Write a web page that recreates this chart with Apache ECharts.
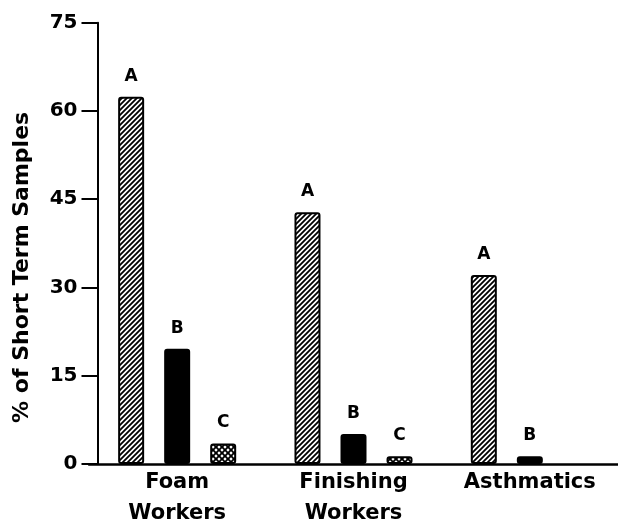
<!DOCTYPE html>
<html>
<head>
<meta charset="utf-8">
<script src="https://cdn.jsdelivr.net/npm/echarts@6/dist/echarts.min.js"></script>
<style>
html,body{margin:0;padding:0;background:#fff;}
#chart{width:618px;height:529px;}
</style>
</head>
<body>
<div id="chart"></div>
<script>
const categories = ['Foam\nWorkers', 'Finishing\nWorkers', 'Asthmatics'];
const seriesNames = ['A', 'B', 'C'];
const valuesA = [62.4, 42.8, 32.1];
const valuesB = [19.6, 5.1, 1.3];
const valuesC = [3.5, 1.3, null];
const yTicks = [0, 15, 30, 45, 60, 75];
const yAxisTitle = '% of Short Term Samples';

function hatchPattern() {
  const s = 5;
  const c = document.createElement('canvas');
  c.width = s; c.height = s;
  const g = c.getContext('2d');
  g.fillStyle = '#fff';
  g.fillRect(0, 0, s, s);
  g.strokeStyle = '#000';
  g.lineWidth = 1.8;
  g.beginPath();
  g.moveTo(-1, s + 1); g.lineTo(s + 1, -1);
  g.moveTo(-1, 1); g.lineTo(1, -1);
  g.moveTo(s - 1, s + 1); g.lineTo(s + 1, s - 1);
  g.stroke();
  return c;
}
function crossPattern() {
  const s = 6;
  const c = document.createElement('canvas');
  c.width = s; c.height = s;
  const g = c.getContext('2d');
  g.fillStyle = '#000';
  g.fillRect(0, 0, s, s);
  g.fillStyle = '#fff';
  const r = 1.7;
  const pts = [[3, 3], [0, 0], [s, 0], [0, s], [s, s]];
  pts.forEach(([x, y]) => {
    g.beginPath();
    g.moveTo(x, y - r); g.lineTo(x + r, y); g.lineTo(x, y + r); g.lineTo(x - r, y);
    g.closePath();
    g.fill();
  });
  return c;
}

const fills = [
  { image: hatchPattern(), repeat: 'repeat' },
  '#000',
  { image: crossPattern(), repeat: 'repeat' }
];
const allValues = [valuesA, valuesB, valuesC];

const chart = echarts.init(document.getElementById('chart'), null, { renderer: 'canvas' });
const font = 'DejaVu Sans';

chart.setOption({
  animation: false,
  backgroundColor: '#fff',
  grid: { left: 89, right: -12.5, top: 22.7, bottom: 62, containLabel: false },
  xAxis: {
    type: 'category',
    data: categories,
    axisLine: { lineStyle: { color: '#000', width: 2.5 } },
    axisTick: { show: false },
    axisLabel: {
      color: '#000', fontFamily: font, fontWeight: 'bold', fontSize: 21,
      lineHeight: 31, margin: 3, interval: 0
    },
    splitLine: { show: false }
  },
  yAxis: {
    type: 'value',
    min: yTicks[0],
    max: yTicks[yTicks.length - 1],
    interval: yTicks[1] - yTicks[0],
    offset: -8.5,
    name: yAxisTitle,
    nameLocation: 'middle',
    nameGap: 64,
    nameTextStyle: {
      color: '#000', fontFamily: font, fontWeight: 'bold', fontSize: 22,
      padding: [0, 48, 0, 0]
    },
    axisLine: { show: true, lineStyle: { color: '#000', width: 2 } },
    axisTick: { show: true, length: 16, lineStyle: { color: '#000', width: 2 } },
    axisLabel: { color: '#000', fontFamily: font, fontWeight: 'bold', fontSize: 20, margin: 20 },
    splitLine: { show: false }
  },
  series: seriesNames.map((name, i) => ({
    name: name,
    type: 'bar',
    data: allValues[i],
    barWidth: 26,
    barGap: '77%',
    itemStyle: { color: fills[i], borderColor: '#000', borderWidth: 2, borderRadius: 2 },
    label: {
      show: true, position: 'top', distance: 12,
      formatter: () => name,
      color: '#000', fontFamily: font, fontWeight: 'bold', fontSize: 17
    }
  }))
});
</script>
</body>
</html>
